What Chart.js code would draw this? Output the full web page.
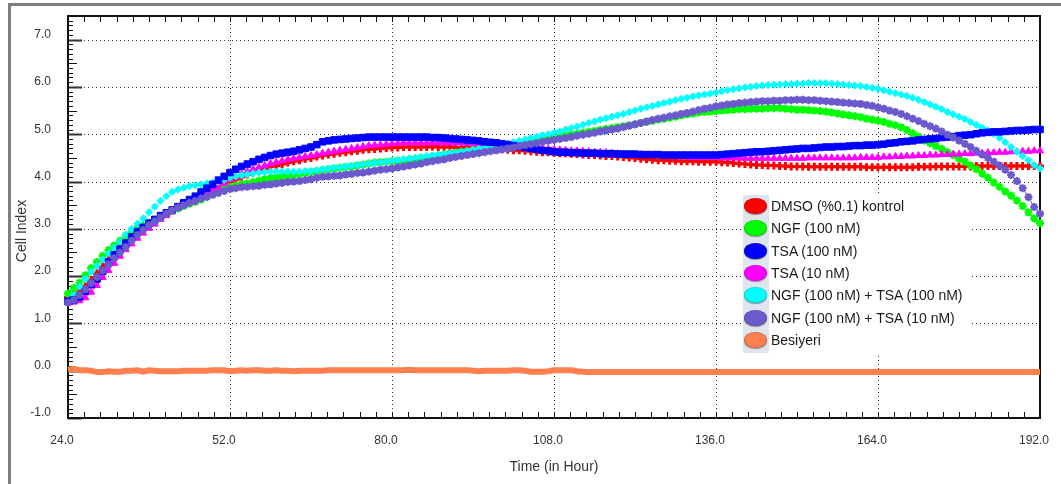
<!DOCTYPE html>
<html>
<head>
<meta charset="utf-8">
<script src="https://cdn.jsdelivr.net/npm/chart.js@4.4.1/dist/chart.umd.min.js"></script>
<style>
  html, body { margin: 0; padding: 0; background: #fff; }
  #wrap { position: relative; width: 1061px; height: 484px; }
  #legend {
    position: absolute; left: 743px; top: 195px; width: 227px; height: 158px;
    background: #fff; font-family: "Liberation Sans", Arial, sans-serif; font-size: 14px; color: #1a1a1a;
  }
  #legend .col { position: absolute; left: 0; top: 0; width: 26px; height: 100%; background: #dfe5ee; }
  #legend .row { position: absolute; left: 0; height: 22px; line-height: 22px; white-space: nowrap; }
  #legend .dot {
    position: absolute; left: 1px; top: 3px; width: 23px; height: 16px; border-radius: 50%;
    box-shadow: 0 1px 1px #8a8a8a; border: 1px solid rgba(0,0,0,0.12); box-sizing: border-box;
  }
  #legend .txt { position: absolute; left: 28px; top: 0; }
</style>
</head>
<body>
<div id="wrap">
  <canvas id="grafico"></canvas>
  <div id="legend"><div class="col"></div></div>
</div>
<script>
// saat 24'ten başlayarak her saat bir ölçüm
const startHour = 24;
const stepHour = 1;

const seriesNames = [
  "DMSO (%0.1) kontrol", "NGF (100 nM)", "TSA (100 nM)", "TSA (10 nM)",
  "NGF (100 nM) + TSA (100 nM)", "NGF (100 nM) + TSA (10 nM)", "Besiyeri"
];
const seriesColors = ["#ff0000", "#00ff00", "#0000ff", "#ff00ff", "#00ffff", "#6a5acd", "#ff7f50"];

const dmso = [
  1.55, 1.62, 1.68, 1.78, 1.92, 2.06, 2.20, 2.34, 2.47, 2.60,
  2.70, 2.80, 2.90, 2.99, 3.08, 3.16, 3.24, 3.32, 3.39, 3.46,
  3.53, 3.59, 3.65, 3.71, 3.77, 3.83, 3.89, 3.95, 4.00, 4.05,
  4.10, 4.15, 4.19, 4.23, 4.27, 4.31, 4.34, 4.37, 4.40, 4.43,
  4.45, 4.48, 4.50, 4.53, 4.55, 4.57, 4.59, 4.61, 4.62, 4.64,
  4.65, 4.67, 4.68, 4.69, 4.70, 4.71, 4.72, 4.72, 4.73, 4.73,
  4.73, 4.73, 4.73, 4.74, 4.73, 4.73, 4.73, 4.72, 4.72, 4.72,
  4.71, 4.71, 4.70, 4.69, 4.69, 4.68, 4.67, 4.66, 4.66, 4.65,
  4.64, 4.63, 4.62, 4.62, 4.61, 4.60, 4.60, 4.59, 4.58, 4.57,
  4.56, 4.56, 4.55, 4.54, 4.54, 4.53, 4.52, 4.51, 4.50, 4.48,
  4.47, 4.46, 4.45, 4.45, 4.44, 4.44, 4.43, 4.43, 4.43, 4.42,
  4.42, 4.42, 4.42, 4.41, 4.40, 4.39, 4.38, 4.37, 4.36, 4.35,
  4.35, 4.34, 4.34, 4.33, 4.33, 4.32, 4.32, 4.32, 4.31, 4.31,
  4.31, 4.31, 4.31, 4.31, 4.31, 4.31, 4.31, 4.31, 4.30, 4.30,
  4.30, 4.30, 4.30, 4.30, 4.30, 4.30, 4.30, 4.31, 4.31, 4.31,
  4.32, 4.32, 4.32, 4.32, 4.32, 4.32, 4.32, 4.33, 4.33, 4.33,
  4.33, 4.33, 4.33, 4.33, 4.33, 4.33, 4.33, 4.33, 4.33
];

const ngf = [
  1.63, 1.75, 1.86, 2.02, 2.17, 2.30, 2.43, 2.55, 2.65, 2.75,
  2.85, 2.93, 3.00, 3.07, 3.13, 3.18, 3.25, 3.32, 3.38, 3.43,
  3.48, 3.53, 3.57, 3.62, 3.67, 3.73, 3.79, 3.84, 3.88, 3.91,
  3.94, 3.96, 3.99, 4.02, 4.05, 4.07, 4.09, 4.11, 4.12, 4.14,
  4.16, 4.18, 4.20, 4.22, 4.24, 4.26, 4.28, 4.29, 4.31, 4.32,
  4.34, 4.36, 4.38, 4.40, 4.41, 4.42, 4.43, 4.44, 4.45, 4.47,
  4.48, 4.50, 4.51, 4.53, 4.55, 4.57, 4.59, 4.61, 4.63, 4.64,
  4.66, 4.67, 4.69, 4.70, 4.71, 4.72, 4.74, 4.76, 4.79, 4.81,
  4.83, 4.85, 4.88, 4.90, 4.92, 4.94, 4.97, 4.99, 5.01, 5.03,
  5.05, 5.07, 5.09, 5.11, 5.13, 5.15, 5.17, 5.19, 5.21, 5.24,
  5.26, 5.28, 5.31, 5.33, 5.35, 5.37, 5.40, 5.42, 5.44, 5.46,
  5.47, 5.48, 5.49, 5.50, 5.51, 5.52, 5.53, 5.53, 5.54, 5.54,
  5.54, 5.55, 5.55, 5.55, 5.54, 5.53, 5.52, 5.52, 5.51, 5.50,
  5.49, 5.48, 5.46, 5.44, 5.42, 5.40, 5.38, 5.36, 5.33, 5.31,
  5.29, 5.26, 5.22, 5.19, 5.15, 5.09, 5.02, 4.95, 4.87, 4.81,
  4.75, 4.69, 4.62, 4.56, 4.49, 4.42, 4.34, 4.26, 4.17, 4.08,
  3.98, 3.89, 3.79, 3.70, 3.60, 3.48, 3.35, 3.22, 3.12
];

const tsa100 = [
  1.47, 1.50, 1.56, 1.68, 1.82, 1.94, 2.10, 2.30, 2.45, 2.57,
  2.70, 2.83, 2.94, 3.03, 3.12, 3.20, 3.28, 3.34, 3.40, 3.47,
  3.55, 3.62, 3.69, 3.78, 3.86, 3.94, 4.03, 4.11, 4.19, 4.26,
  4.32, 4.37, 4.42, 4.47, 4.51, 4.55, 4.58, 4.60, 4.62, 4.64,
  4.67, 4.70, 4.73, 4.78, 4.84, 4.86, 4.88, 4.89, 4.90, 4.91,
  4.92, 4.93, 4.94, 4.94, 4.94, 4.94, 4.94, 4.94, 4.94, 4.94,
  4.94, 4.94, 4.94, 4.93, 4.93, 4.92, 4.91, 4.90, 4.89, 4.88,
  4.87, 4.86, 4.84, 4.83, 4.82, 4.80, 4.78, 4.76, 4.74, 4.72,
  4.70, 4.68, 4.66, 4.65, 4.63, 4.62, 4.62, 4.61, 4.61, 4.60,
  4.60, 4.60, 4.59, 4.59, 4.59, 4.58, 4.58, 4.58, 4.58, 4.57,
  4.57, 4.57, 4.57, 4.56, 4.56, 4.56, 4.56, 4.56, 4.56, 4.56,
  4.56, 4.56, 4.56, 4.57, 4.58, 4.59, 4.60, 4.61, 4.62, 4.63,
  4.63, 4.64, 4.65, 4.66, 4.67, 4.68, 4.69, 4.70, 4.70, 4.71,
  4.72, 4.73, 4.73, 4.74, 4.74, 4.75, 4.76, 4.76, 4.77, 4.77,
  4.78, 4.79, 4.81, 4.82, 4.84, 4.85, 4.86, 4.88, 4.89, 4.90,
  4.91, 4.93, 4.94, 4.95, 4.97, 4.98, 4.99, 5.01, 5.03, 5.04,
  5.05, 5.05, 5.06, 5.07, 5.08, 5.08, 5.09, 5.10, 5.10
];

const tsa10 = [
  1.44, 1.45, 1.48, 1.54, 1.66, 1.80, 1.97, 2.12, 2.27, 2.42,
  2.56, 2.68, 2.80, 2.91, 3.01, 3.10, 3.20, 3.28, 3.36, 3.43,
  3.50, 3.56, 3.63, 3.69, 3.75, 3.81, 3.87, 3.96, 4.04, 4.10,
  4.16, 4.21, 4.26, 4.30, 4.34, 4.38, 4.41, 4.44, 4.47, 4.49,
  4.51, 4.53, 4.55, 4.57, 4.60, 4.62, 4.64, 4.66, 4.68, 4.70,
  4.72, 4.74, 4.76, 4.77, 4.78, 4.79, 4.80, 4.81, 4.82, 4.82,
  4.82, 4.82, 4.82, 4.82, 4.82, 4.82, 4.82, 4.82, 4.82, 4.81,
  4.81, 4.80, 4.80, 4.79, 4.78, 4.77, 4.76, 4.75, 4.74, 4.73,
  4.72, 4.71, 4.70, 4.69, 4.68, 4.67, 4.66, 4.65, 4.65, 4.64,
  4.63, 4.62, 4.62, 4.61, 4.60, 4.59, 4.58, 4.58, 4.57, 4.57,
  4.56, 4.55, 4.55, 4.54, 4.53, 4.53, 4.52, 4.52, 4.51, 4.51,
  4.51, 4.51, 4.51, 4.50, 4.50, 4.50, 4.50, 4.49, 4.49, 4.49,
  4.49, 4.49, 4.49, 4.49, 4.49, 4.49, 4.49, 4.49, 4.50, 4.50,
  4.50, 4.50, 4.50, 4.50, 4.50, 4.50, 4.50, 4.51, 4.51, 4.51,
  4.51, 4.52, 4.52, 4.53, 4.53, 4.54, 4.54, 4.55, 4.55, 4.56,
  4.56, 4.57, 4.57, 4.58, 4.58, 4.59, 4.59, 4.60, 4.60, 4.61,
  4.61, 4.62, 4.62, 4.63, 4.63, 4.64, 4.64, 4.65, 4.65
];

const ngfTsa100 = [
  1.47, 1.60, 1.78, 1.94, 2.09, 2.22, 2.35, 2.48, 2.60, 2.73,
  2.88, 3.00, 3.11, 3.22, 3.35, 3.47, 3.59, 3.69, 3.78, 3.83,
  3.87, 3.90, 3.92, 3.94, 3.96, 3.98, 4.00, 4.04, 4.08, 4.11,
  4.13, 4.15, 4.17, 4.19, 4.20, 4.21, 4.21, 4.21, 4.21, 4.21,
  4.21, 4.22, 4.22, 4.24, 4.26, 4.27, 4.29, 4.30, 4.32, 4.33,
  4.35, 4.36, 4.38, 4.39, 4.41, 4.42, 4.44, 4.45, 4.47, 4.48,
  4.50, 4.52, 4.54, 4.55, 4.57, 4.58, 4.60, 4.61, 4.63, 4.65,
  4.67, 4.69, 4.71, 4.73, 4.76, 4.78, 4.81, 4.83, 4.86, 4.89,
  4.92, 4.95, 4.98, 5.00, 5.03, 5.06, 5.10, 5.13, 5.16, 5.20,
  5.24, 5.27, 5.31, 5.34, 5.37, 5.40, 5.43, 5.47, 5.50, 5.54,
  5.57, 5.60, 5.63, 5.66, 5.69, 5.72, 5.75, 5.77, 5.80, 5.82,
  5.84, 5.86, 5.88, 5.91, 5.93, 5.95, 5.97, 5.99, 6.00, 6.02,
  6.03, 6.04, 6.05, 6.05, 6.06, 6.06, 6.07, 6.07, 6.08, 6.08,
  6.08, 6.08, 6.07, 6.06, 6.05, 6.04, 6.03, 6.02, 6.00, 5.98,
  5.96, 5.93, 5.90, 5.87, 5.84, 5.81, 5.77, 5.73, 5.68, 5.63,
  5.58, 5.53, 5.47, 5.42, 5.37, 5.32, 5.26, 5.20, 5.14, 5.08,
  5.01, 4.92, 4.83, 4.73, 4.63, 4.54, 4.45, 4.35, 4.28
];

const ngfTsa10 = [
  1.44, 1.50, 1.60, 1.72, 1.85, 1.98, 2.12, 2.25, 2.38, 2.50,
  2.62, 2.75, 2.87, 2.98, 3.08, 3.16, 3.24, 3.32, 3.39, 3.45,
  3.50, 3.55, 3.59, 3.64, 3.68, 3.72, 3.76, 3.80, 3.84, 3.86,
  3.88, 3.89, 3.90, 3.91, 3.93, 3.94, 3.96, 3.97, 3.99, 4.00,
  4.01, 4.03, 4.05, 4.08, 4.10, 4.11, 4.12, 4.13, 4.15, 4.16,
  4.18, 4.19, 4.21, 4.23, 4.25, 4.26, 4.28, 4.30, 4.32, 4.34,
  4.36, 4.38, 4.41, 4.43, 4.45, 4.47, 4.50, 4.52, 4.54, 4.56,
  4.58, 4.60, 4.62, 4.64, 4.66, 4.68, 4.70, 4.72, 4.75, 4.77,
  4.79, 4.81, 4.84, 4.86, 4.88, 4.90, 4.92, 4.94, 4.97, 4.99,
  5.01, 5.03, 5.06, 5.08, 5.10, 5.12, 5.15, 5.18, 5.21, 5.24,
  5.27, 5.30, 5.33, 5.35, 5.38, 5.40, 5.43, 5.45, 5.48, 5.51,
  5.54, 5.56, 5.59, 5.61, 5.63, 5.64, 5.66, 5.67, 5.68, 5.69,
  5.70, 5.70, 5.71, 5.71, 5.72, 5.72, 5.73, 5.73, 5.72, 5.72,
  5.71, 5.70, 5.69, 5.68, 5.67, 5.66, 5.65, 5.64, 5.62, 5.60,
  5.57, 5.54, 5.50, 5.47, 5.43, 5.38, 5.33, 5.28, 5.22, 5.17,
  5.12, 5.06, 4.99, 4.93, 4.87, 4.80, 4.73, 4.65, 4.57, 4.50,
  4.42, 4.34, 4.25, 4.14, 4.01, 3.86, 3.67, 3.46, 3.32
];

const besiyeri = [
  0.02, 0.04, 0.01, 0.01, 0.00, -0.03, -0.03, -0.01, -0.02, -0.02,
  0.00, 0.00, 0.01, -0.02, 0.01, 0.00, -0.01, -0.01, -0.01, -0.01,
  0.00, 0.00, 0.00, 0.00, 0.00, 0.01, 0.01, 0.01, -0.01, 0.00,
  0.01, 0.00, 0.01, 0.01, 0.00, 0.00, 0.01, 0.00, 0.00, -0.01,
  0.00, 0.00, 0.00, 0.00, 0.00, 0.01, 0.01, 0.01, 0.01, 0.01,
  0.01, 0.01, 0.01, 0.01, 0.01, 0.01, 0.01, 0.01, 0.01, 0.02,
  0.01, 0.01, 0.01, 0.01, 0.01, 0.01, 0.01, 0.01, 0.01, 0.01,
  0.00, -0.01, 0.00, 0.00, 0.00, 0.00, 0.00, 0.01, 0.01, 0.00,
  -0.02, -0.02, -0.02, -0.01, 0.01, 0.01, 0.01, 0.01, -0.01, -0.02,
  -0.03, -0.03, -0.03, -0.03, -0.03, -0.03, -0.03, -0.03, -0.03, -0.03,
  -0.03, -0.03, -0.03, -0.03, -0.03, -0.03, -0.03, -0.03, -0.03, -0.03,
  -0.03, -0.03, -0.03, -0.03, -0.03, -0.03, -0.03, -0.03, -0.03, -0.03,
  -0.03, -0.03, -0.03, -0.03, -0.03, -0.03, -0.03, -0.03, -0.03, -0.03,
  -0.03, -0.03, -0.03, -0.03, -0.03, -0.03, -0.03, -0.03, -0.03, -0.03,
  -0.03, -0.03, -0.03, -0.03, -0.03, -0.03, -0.03, -0.03, -0.03, -0.03,
  -0.03, -0.03, -0.03, -0.03, -0.03, -0.03, -0.03, -0.03, -0.03, -0.03,
  -0.03, -0.03, -0.03, -0.03, -0.03, -0.03, -0.03, -0.03, -0.03
];

const seriesValues = [dmso, ngf, tsa100, tsa10, ngfTsa100, ngfTsa10, besiyeri];

// eksen ayarları
const xMin = 24, xMax = 192, xStep = 28, xMinorStep = 2.8;
const yMin = -1, yMax = 7.5, yStep = 1, yMinorStep = 0.1;
const yTitle = "Cell Index";

const tickFont = { family: "'Liberation Sans', Arial, sans-serif", size: 12 };
const titleFont = { family: "'Liberation Sans', Arial, sans-serif", size: 14 };

function aPuntos(valores) {
  return valores.map((v, i) => ({ x: startHour + i * stepHour, y: v }));
}

// görünüm: işaret tipi, boyut, çizim sırası
const estilos = [
  { pointStyle: "cross", radius: 4, pbw: 3, order: 6 },
  { pointStyle: "star", radius: 4, pbw: 2.2, order: 5 },
  { pointStyle: "rect", radius: 4.6, pbw: 1, order: 2 },
  { pointStyle: "triangle", radius: 4, pbw: 1, order: 4 },
  { pointStyle: "rectRot", radius: 3.6, pbw: 1, order: 3 },
  { pointStyle: "star", radius: 4, pbw: 2.2, order: 1 },
  { pointStyle: false, radius: 0, pbw: 0, order: 7 }
];

const datasets = seriesValues.map((vals, i) => {
  const e = estilos[i];
  const esBesiyeri = i === seriesValues.length - 1;
  return {
    label: seriesNames[i],
    data: aPuntos(vals),
    borderColor: seriesColors[i],
    backgroundColor: seriesColors[i],
    borderWidth: esBesiyeri ? 6 : 1,
    pointStyle: e.pointStyle,
    pointRadius: e.radius,
    pointBorderWidth: e.pbw,
    pointBackgroundColor: seriesColors[i],
    pointBorderColor: seriesColors[i],
    tension: 0,
    clip: false,
    order: e.order
  };
});

// çerçeve, noktalı ızgara ve küçük çentikler
const cerceve = {
  id: "cerceve",
  beforeDraw(chart) {
    const ctx = chart.ctx;
    ctx.save();
    ctx.fillStyle = "#ffffff";
    ctx.fillRect(0, 0, chart.width, chart.height);
    ctx.fillStyle = "#7f7f7f";
    ctx.fillRect(8, 3, chart.width - 8, 3);
    ctx.fillRect(8, 3, 3, chart.height - 3);

    // y ekseni başlığı (biraz aşağıda ortalanmış)
    const { top, bottom } = chart.chartArea;
    ctx.translate(22, (top + bottom) / 2 + 14);
    ctx.rotate(-Math.PI / 2);
    ctx.fillStyle = "#333";
    ctx.font = titleFont.size + "px " + titleFont.family;
    ctx.textAlign = "center";
    ctx.textBaseline = "middle";
    ctx.fillText(yTitle, 0, 0);
    ctx.restore();
  },
  beforeDatasetsDraw(chart) {
    const ctx = chart.ctx;
    const { left, right, top, bottom } = chart.chartArea;
    const xs = chart.scales.x, ys = chart.scales.y;
    ctx.save();

    // noktalı ızgara
    ctx.strokeStyle = "#333";
    ctx.lineWidth = 1;
    ctx.setLineDash([1, 3]);
    xs.ticks.forEach(t => {
      if (t.value === xMin) return;
      const x = Math.round(xs.getPixelForValue(t.value)) + 0.5;
      ctx.beginPath(); ctx.moveTo(x, top); ctx.lineTo(x, bottom); ctx.stroke();
    });
    ys.ticks.forEach(t => {
      if (t.value === yMin) return;
      const y = Math.round(ys.getPixelForValue(t.value)) + 0.5;
      ctx.beginPath(); ctx.moveTo(left, y); ctx.lineTo(right, y); ctx.stroke();
    });
    ctx.setLineDash([]);

    // y çentikleri
    const nY = Math.round((yMax - yMin) / yMinorStep);
    for (let i = 0; i <= nY; i++) {
      const v = yMin + i * yMinorStep;
      const y = Math.round(ys.getPixelForValue(v)) + 0.5;
      const mayor = i % 10 === 0, medio = i % 5 === 0;
      ctx.strokeStyle = mayor ? "#333" : "#111";
      ctx.lineWidth = mayor ? 2 : 1;
      ctx.beginPath();
      ctx.moveTo(left, y);
      ctx.lineTo(left + (mayor ? 14 : (medio ? 9 : 5)), y);
      ctx.stroke();
    }

    // x çentikleri (alt ve üst)
    ctx.strokeStyle = "#111";
    ctx.lineWidth = 1;
    const nX = Math.round((xMax - xMin) / xMinorStep);
    for (let i = 0; i <= nX; i++) {
      const x = Math.round(xs.getPixelForValue(xMin + i * xMinorStep)) + 0.5;
      ctx.beginPath();
      ctx.moveTo(x, bottom); ctx.lineTo(x, bottom - 6);
      ctx.moveTo(x, top); ctx.lineTo(x, top + 6);
      ctx.stroke();
    }

    // çerçeve
    ctx.strokeStyle = "#111";
    ctx.lineWidth = 2;
    ctx.strokeRect(left, top, right - left, bottom - top);
    ctx.restore();
  }
};

new Chart(document.getElementById("grafico"), {
  type: "line",
  data: { datasets },
  options: {
    responsive: true,
    maintainAspectRatio: false,
    animation: false,
    layout: { padding: { top: 16, right: 21, left: 0, bottom: 0 } },
    plugins: { legend: { display: false }, tooltip: { enabled: false } },
    scales: {
      x: {
        type: "linear",
        min: xMin,
        max: xMax,
        afterFit: s => { s.height = 66; s.paddingLeft = 0; s.paddingRight = 0; },
        ticks: {
          stepSize: xStep,
          callback: v => v.toFixed(1),
          padding: 15,
          labelOffset: -6,
          maxRotation: 0,
          autoSkip: false,
          color: "#333",
          font: tickFont
        },
        grid: { display: false, drawTicks: false, tickLength: 0 },
        border: { display: false },
        title: { display: true, text: "Time (in Hour)", color: "#333", font: titleFont, padding: { top: 4, bottom: 8 } }
      },
      y: {
        min: yMin,
        max: yMax,
        afterFit: s => { s.width = 68; s.paddingTop = 0; s.paddingBottom = 0; },
        afterBuildTicks: s => { s.ticks = s.ticks.filter(t => Number.isInteger(t.value)); },
        ticks: {
          stepSize: yStep,
          callback: v => v.toFixed(1),
          padding: 17,
          labelOffset: -5,
          color: "#333",
          font: tickFont
        },
        grid: { display: false, drawTicks: false, tickLength: 0 },
        border: { display: false },
        title: { display: false }
      }
    }
  },
  plugins: [cerceve]
});

// lejant
const legend = document.getElementById("legend");
seriesNames.forEach((name, i) => {
  const row = document.createElement("div");
  row.className = "row";
  row.style.top = (i * 22.3) + "px";
  row.style.width = "100%";
  const dot = document.createElement("div");
  dot.className = "dot";
  dot.style.background = seriesColors[i];
  const txt = document.createElement("span");
  txt.className = "txt";
  txt.textContent = name;
  row.appendChild(dot);
  row.appendChild(txt);
  legend.appendChild(row);
});
</script>
</body>
</html>
